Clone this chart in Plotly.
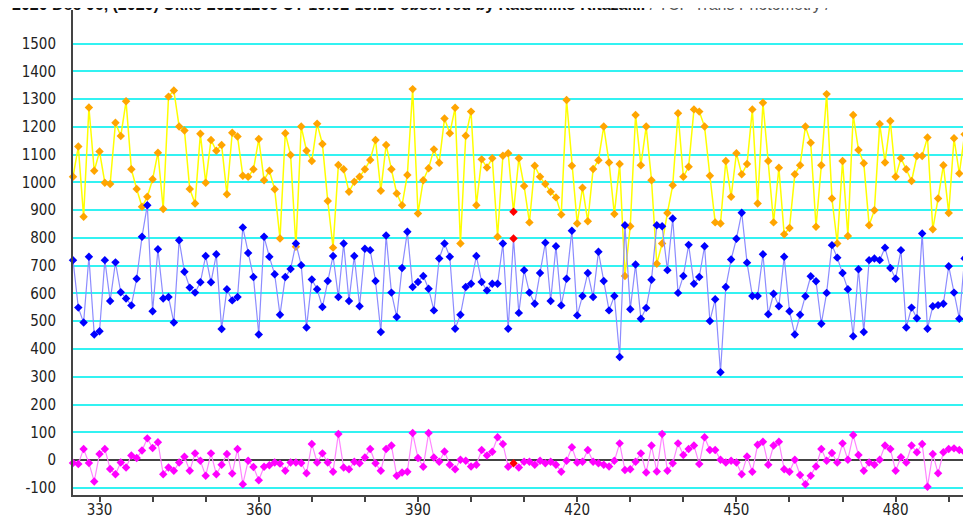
import plotly.graph_objects as go

# ---------------- data ----------------
frame = list(range(325, 495))  # 170 frames

comparison = [  # orange series
    1020, 1129, 876, 1270, 1042, 1111, 999, 994, 1215, 1167,
    1292, 1047, 976, 912, 948, 1011, 1107, 904, 1309, 1331,
    1201, 1187, 976, 924, 1175, 999, 1153, 1114, 1135, 957,
    1179, 1165, 1024, 1020, 1047, 1156, 1008, 1042, 975, 798,
    1177, 1099, 768, 1201, 1114, 1077, 1211, 1138, 933, 765,
    1063, 1047, 966, 1002, 1020, 1047, 1081, 1153, 970, 1135,
    1047, 960, 918, 1027, 1336, 888, 1008, 1051, 1119, 1071,
    1230, 1177, 1269, 780, 1168, 1255, 918, 1083, 1054, 1087,
    804, 1096, 1105, 894, 1087, 987, 856, 1060, 1020, 994,
    966, 946, 884, 1297, 1060, 852, 981, 860, 1048, 1080,
    1201, 1072, 886, 1066, 663, 842, 1243, 1062, 1201, 1008,
    707, 780, 890, 990, 1249, 1020, 1056, 1263, 1255, 1201,
    1024, 856, 852, 1077, 948, 1105, 1029, 1066, 1263, 924,
    1287, 1077, 856, 1053, 813, 836, 1029, 1062, 1201, 1143,
    840, 1062, 1318, 942, 780, 1077, 807, 1243, 1117, 1069,
    846, 900, 1210, 1072, 1221, 1020, 1087, 1047, 1005, 1095,
    1095, 1162, 831, 942, 1062, 890, 1159, 1032, 1173, 990,
]

target = [  # blue series
    720, 549, 495, 732, 452, 464, 720, 573, 712, 604,
    582, 557, 653, 804, 918, 536, 759, 582, 587, 495,
    792, 678, 621, 603, 640, 735, 640, 741, 472, 615,
    575, 587, 838, 746, 659, 452, 804, 732, 669, 523,
    659, 688, 780, 702, 477, 650, 615, 551, 645, 735,
    587, 780, 573, 735, 554, 761, 756, 645, 461, 809,
    603, 515, 692, 822, 623, 641, 663, 617, 539, 726,
    780, 732, 473, 523, 623, 635, 735, 641, 611, 635,
    635, 780, 473, 798, 530, 684, 603, 563, 674, 783,
    573, 770, 557, 653, 826, 521, 591, 674, 587, 750,
    645, 539, 591, 371, 846, 543, 704, 509, 548, 649,
    846, 842, 684, 870, 602, 663, 775, 635, 659, 770,
    501, 579, 316, 623, 722, 797, 891, 711, 591, 591,
    741, 525, 599, 554, 732, 536, 452, 523, 590, 662,
    644, 491, 602, 774, 729, 674, 615, 446, 687, 461,
    720, 726, 720, 765, 692, 653, 756, 477, 549, 511,
    816, 473, 554, 558, 563, 698, 603, 509, 726, 536,
]

check = [  # magenta series
    -11, -14, 40, -11, -77, 22, 40, -32, -51, -9,
    -27, 16, 7, 34, 78, 43, 64, -51, -27, -39,
    -9, 12, -39, 24, -3, -57, 24, -51, -17, 22,
    -49, 40, -87, -3, -25, -73, -24, -19, -9, -13,
    -39, -9, -9, -11, -48, 58, -9, 24, -9, -42,
    94, -27, -33, -6, -12, 9, 40, -12, -39, 40,
    52, -57, -45, -42, 97, 7, -24, 97, 9, -6,
    31, -17, -33, 1, -3, -23, -17, 36, 16, 30,
    82, 58, -24, -12, -27, -6, -6, -17, -3, -12,
    -6, -17, -42, -3, 46, -9, -6, 36, -6, -12,
    -17, -23, -3, 60, -36, -33, -6, 24, -45, 52,
    -41, 94, -39, -12, 60, 18, 40, 52, -14, 82,
    36, 36, 1, -9, -3, -9, -51, 13, -42, 55,
    66, -17, 52, 66, -33, -42, 1, -54, -87, -57,
    -23, 40, -3, 25, -9, 60, 1, 90, 18, -39,
    -9, -17, 1, 52, 40, -39, 10, -9, 52, 28,
    58, -96, 22, -48, 28, 40, 42, 36, 28, 28,
]

flagged_frames = [408]  # points drawn in red

x_tick_vals = [330, 340, 350, 360, 370, 380, 390, 400, 410, 420, 430, 440, 450, 460, 470, 480, 490]
x_tick_text = ["330", "", "", "360", "", "", "390", "", "", "420", "", "", "450", "", "", "480", ""]
y_tick_vals = [-100, 0, 100, 200, 300, 400, 500, 600, 700, 800, 900, 1000, 1100, 1200, 1300, 1400, 1500]
y_tick_text = ["-100", "0", "100", "200", "300", "400", "500", "600", "700", "800", "900",
               "1000", "1100", "1200", "1300", "1400", "1500"]

title_main = "2020 Dec 06, (2020) Ukko 20201206 UT 10:02-15:20 observed by Katsuhiko Kitazaki."
title_sub = " / TCP Trans Photometry /"

# ---------------- figure ----------------
# the page body has an 8 px margin, so the figure is 8 px smaller than the window
def colors(base):
    return ["#FF0000" if f in flagged_frames else base for f in frame]

fig = go.Figure()

series = [
    (comparison, "#FFA500", "#FFFF00", 1.5),
    (target, "#0000FF", "#8C8CFF", 1.2),
    (check, "#FF00FF", "#FF85FF", 1.2),
]
for vals, mcol, lcol, lw in series:
    fig.add_trace(go.Scatter(
        x=frame, y=vals, mode="lines+markers",
        line=dict(color=lcol, width=lw),
        marker=dict(symbol="diamond", size=6.5, color=colors(mcol), line=dict(width=0)),
        cliponaxis=False, showlegend=False, hoverinfo="x+y",
    ))

font_ticks = dict(family="Liberation Sans Narrow, DejaVu Sans Condensed, Liberation Sans, sans-serif",
                  size=15, color="#222222")

fig.add_annotation(
    text="<b>" + title_main + "</b><span style='color:#555555'>" + title_sub + "</span>",
    xref="paper", yref="paper", x=0, y=1, xanchor="left", yanchor="middle",
    xshift=-63, yshift=6, showarrow=False,
    font=dict(family="Liberation Sans, Arial, sans-serif", size=16, color="#111111"),
)

fig.update_layout(
    width=963, height=508,
    margin=dict(l=65, r=0, t=2, b=21, autoexpand=False),
    paper_bgcolor="white", plot_bgcolor="white",
    showlegend=False,
    xaxis=dict(
        range=[325, 494.2], automargin=False,
        tickmode="array", tickvals=x_tick_vals, ticktext=x_tick_text,
        ticks="outside", ticklen=5, tickwidth=1.5, tickcolor="#444444",
        ticklabelstandoff=-5,
        showgrid=False, zeroline=False,
        showline=True, linecolor="#444444", linewidth=2,
        tickfont=font_ticks,
    ),
    yaxis=dict(
        range=[-126, 1621], automargin=False,
        tickmode="array", tickvals=y_tick_vals, ticktext=y_tick_text,
        ticks="", ticklabelstandoff=12,
        showgrid=True, gridcolor="#33F2F2", gridwidth=2,
        zeroline=True, zerolinecolor="#444444", zerolinewidth=2,
        showline=True, linecolor="#444444", linewidth=2,
        tickfont=font_ticks,
    ),
)

fig.write_html("out.html")
